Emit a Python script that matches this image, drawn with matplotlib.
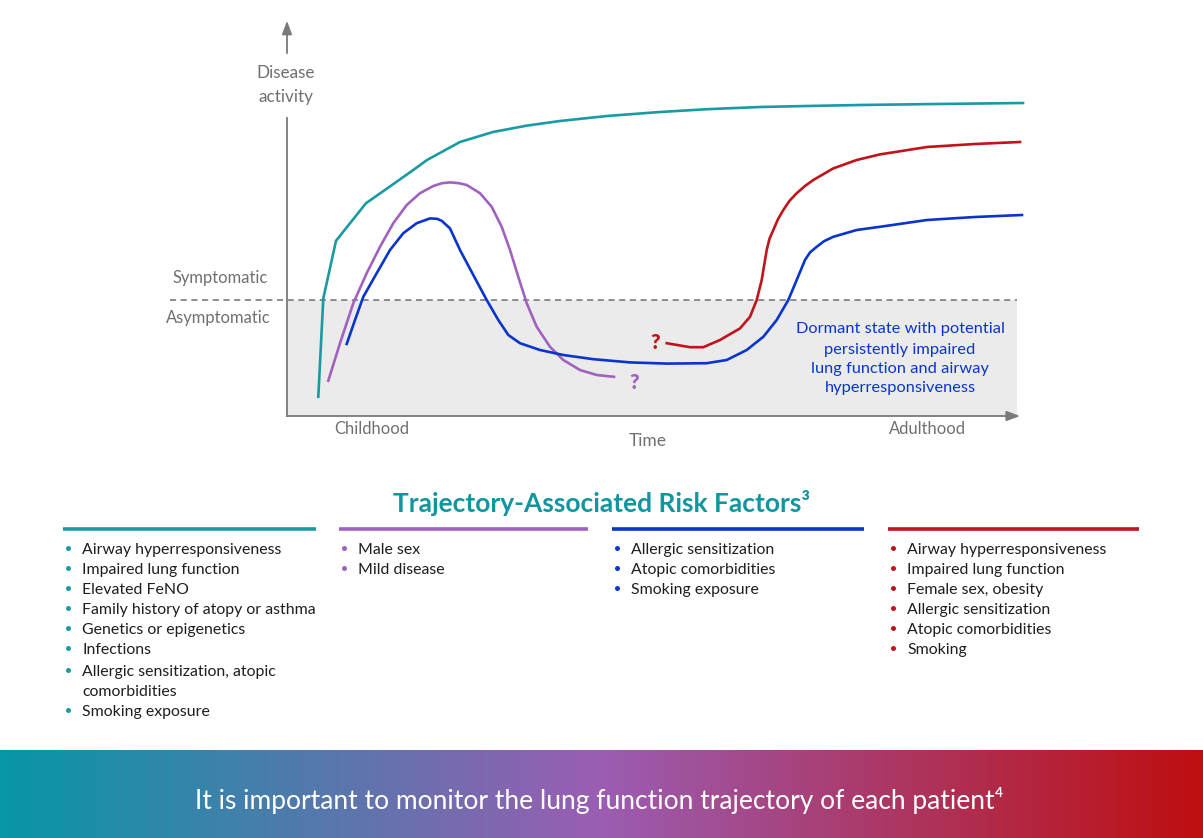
import numpy as np
import matplotlib.pyplot as plt
from matplotlib.colors import LinearSegmentedColormap

plt.rcParams['font.family'] = ['Lato', 'DejaVu Sans']

# --- trajectory curves (time, disease activity) read from the schematic ---
teal_t = [3.13, 3.63, 4.9, 7.9, 10.3, 12.63, 14.0, 17.3, 20.6, 24.0, 27.3, 32.0, 37.3, 42.0, 47.3, 52.0, 57.3, 65.0, 73.6]
teal_y = [4.8, 29.4, 43.8, 53.2, 57.4, 61.5, 64.0, 68.5, 71.0, 72.6, 73.75, 75.0, 76.0, 76.7, 77.25, 77.5, 77.75, 78.0, 78.25]

purple_t = [4.13, 5.3, 6.63, 7.97, 9.3, 10.63, 11.97, 13.3, 14.63, 15.5, 16.3, 17.2, 17.97, 19.3, 20.47, 21.47, 22.3,
            23.13, 23.97, 24.97, 26.3, 27.63, 29.3, 30.97, 32.7]
purple_y = [8.83, 18.2, 28.2, 35.7, 42.3, 48.2, 52.75, 55.7, 57.5, 58.2, 58.4, 58.2, 57.75, 55.7, 52.3, 47.3, 41.5,
            34.8, 28.2, 22.3, 17.3, 14.0, 11.5, 10.25, 9.8]

blue_t = [5.97, 6.8, 7.63, 8.97, 10.3, 11.63, 12.97, 14.3, 15.0, 15.47, 16.3, 17.3, 18.63, 19.97, 21.13, 22.13,
          23.3, 25.3, 27.63, 30.63, 34.3, 38.0, 41.97, 43.97, 45.97, 47.63, 48.97, 50.13, 50.97, 51.8,
          52.3, 52.97, 53.7, 54.63, 56.97, 59.3, 64.0, 68.8, 73.5]
blue_y = [18.0, 24.0, 29.8, 35.7, 41.5, 45.7, 48.2, 49.4, 49.3, 48.8, 46.9, 41.5, 35.25, 29.0, 24.0, 20.25,
          18.2, 16.5, 15.25, 14.2, 13.4, 13.1, 13.2, 14.0, 16.5, 19.8, 24.0, 29.0, 34.0, 39.0,
          40.9, 42.3, 43.7, 44.8, 46.5, 47.3, 49.0, 49.75, 50.25]

red_t = [37.97, 40.3, 41.63, 43.3, 45.3, 46.3, 46.97, 47.47, 47.97, 48.25, 48.63, 49.1, 49.63, 50.25, 50.97,
         51.8, 52.63, 54.63, 56.97, 59.3, 64.0, 68.8, 73.3]
red_y = [18.2, 17.2, 17.2, 19.0, 21.9, 24.8, 29.0, 34.0, 41.5, 44.3, 46.5, 49.2, 51.5, 53.8, 55.7,
         57.5, 59.0, 61.9, 64.0, 65.4, 67.25, 68.0, 68.5]

threshold = 29.0
time_max = 73.3
activity_max = 99.5

# --- text content ---
y_label = ["Disease", "activity"]
time_labels = ["Childhood", "Time", "Adulthood"]
state_labels = ["Symptomatic", "Asymptomatic"]
dormant_note = ["Dormant state with potential", "persistently impaired",
                "lung function and airway", "hyperresponsiveness"]
title = "Trajectory-Associated Risk Factors\u00b3"
banner = "It is important to monitor the lung function trajectory of each patient\u2074"

teal_factors = ["Airway hyperresponsiveness", "Impaired lung function", "Elevated FeNO",
                "Family history of atopy or asthma", "Genetics or epigenetics", "Infections",
                "Allergic sensitization, atopic\ncomorbidities", "Smoking exposure"]
purple_factors = ["Male sex", "Mild disease"]
blue_factors = ["Allergic sensitization", "Atopic comorbidities", "Smoking exposure"]
red_factors = ["Airway hyperresponsiveness", "Impaired lung function", "Female sex, obesity",
               "Allergic sensitization", "Atopic comorbidities", "Smoking"]

TEAL = "#1a9aa2"
PURPLE = "#a062bf"
BLUE = "#0a35cc"
RED = "#c0141c"
GRAY = "#707070"
TEXT = "#1e1e1e"

W, H = 1203, 838
fig = plt.figure(figsize=(W / 100, H / 100), dpi=100)

# overlay in pixel coordinates for layout
bg = fig.add_axes([0, 0, 1, 1])
bg.set_xlim(0, W)
bg.set_ylim(H, 0)
bg.axis("off")

# chart axes: origin at px (287, 416)
ax = fig.add_axes([287 / W, (H - 416) / H, 733 / W, 398 / H])
ax.set_xlim(0, time_max)
ax.set_ylim(0, activity_max)
ax.patch.set_alpha(0)
ax.axis("off")

# asymptomatic shaded zone and threshold
ax.fill_between([0, 73.0], 0, threshold, color="#ebebeb", zorder=0, lw=0)
ax.plot([-11.7, 73.0], [threshold, threshold], ls=(0, (4, 3)), color="#707070", lw=1.1,
        clip_on=False, zorder=1)

# axes arrows
ax.plot([0, 0], [0, 74.5], color="#7a7a7a", lw=1.3, clip_on=False)
ax.annotate("", xy=(0, activity_max), xytext=(0, 90.0),
            arrowprops=dict(arrowstyle="-|>,head_width=0.3,head_length=0.8", color="#7a7a7a", lw=1.3),
            annotation_clip=False)
ax.annotate("", xy=(time_max, 0), xytext=(0, 0),
            arrowprops=dict(arrowstyle="-|>,head_width=0.3,head_length=0.8", color="#7a7a7a", lw=1.3,
                            shrinkA=0, shrinkB=0),
            annotation_clip=False)

# trajectories
lw = 1.9
for t, v, c in [(teal_t, teal_y, TEAL), (purple_t, purple_y, PURPLE),
                (blue_t, blue_y, BLUE), (red_t, red_y, RED)]:
    ax.plot(t, v, color=c, lw=lw, clip_on=False, zorder=3, solid_joinstyle="round")

ax.text(36.8, 18.5, "?", color=RED, fontsize=14.5, fontweight="heavy", ha="center", va="center")
ax.text(34.7, 8.5, "?", color=PURPLE, fontsize=14.5, fontweight="heavy", ha="center", va="center")

# dormant note sits on top of the shaded zone, so it belongs to the chart axes
for i, line in enumerate(dormant_note):
    ax.text(900, 329 + i * 19 + (2 if i else 0), line, transform=bg.transData,
            ha="center", va="center", color=BLUE, fontsize=11.8, zorder=4)

# chart text
bg.text(286, 73, y_label[0], ha="center", va="center", color=GRAY, fontsize=12.3)
bg.text(286, 97, y_label[1], ha="center", va="center", color=GRAY, fontsize=12.3)
bg.text(268, 278, state_labels[0], ha="right", va="center", color=GRAY, fontsize=11.9)
bg.text(271, 318, state_labels[1], ha="right", va="center", color=GRAY, fontsize=11.9)
bg.text(372, 429, time_labels[0], ha="center", va="center", color=GRAY, fontsize=11.9)
bg.text(648, 441, time_labels[1], ha="center", va="center", color=GRAY, fontsize=12.5)
bg.text(927, 429, time_labels[2], ha="center", va="center", color=GRAY, fontsize=11.9)

# title
bg.text(602, 503, title, ha="center", va="center", color="#11969f", fontsize=19, fontweight="bold")

# risk factor columns
columns = [(63, 316, TEAL, teal_factors), (339, 588, PURPLE, purple_factors),
           (612, 864, BLUE, blue_factors), (888, 1139, RED, red_factors)]
for x0, x1, col, items in columns:
    bg.plot([x0, x1], [529, 529], color=col, lw=2.6, solid_capstyle="butt")
    y = 548
    for item in items:
        lines = item.split("\n")
        if len(lines) > 1:
            y += 2
        bg.plot(x0 + 4.5, y, "o", color=col, markersize=3.6, markeredgewidth=0)
        for line in lines:
            bg.text(x0 + 19, y + 5.5, line, ha="left", va="baseline", color=TEXT, fontsize=11.4)
            y += 20

# gradient banner
cmap = LinearSegmentedColormap.from_list("band", ["#0797a5", "#9b5db3", "#be0f10"])
grad = np.linspace(0, 1, 400).reshape(1, -1)
bg.imshow(grad, cmap=cmap, extent=(0, W, 838, 750), aspect="auto", zorder=0)
bg.set_xlim(0, W)
bg.set_ylim(H, 0)
bg.text(599, 800, banner, ha="center", va="center", color="white", fontsize=19)

fig.savefig("out.png", dpi=100)
